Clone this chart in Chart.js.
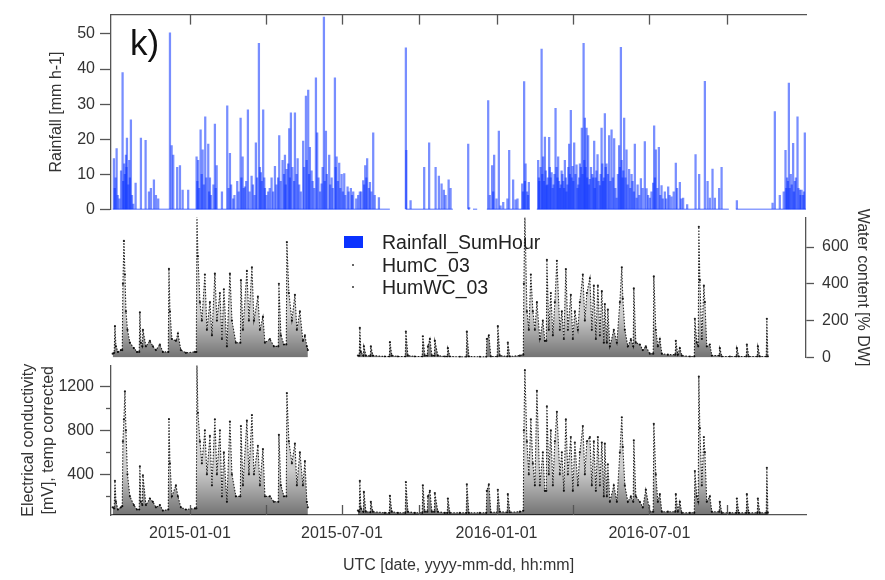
<!DOCTYPE html>
<html>
<head>
<meta charset="utf-8">
<script src="https://cdn.jsdelivr.net/npm/chart.js@4.4.1/dist/chart.umd.min.js"></script>
<style>
  body { margin: 0; background: #fff; }
  #wrap { position: relative; width: 885px; height: 580px; overflow: hidden; font-family: "Liberation Sans", Arial, sans-serif; }
  canvas { position: absolute; left: 0; }
  #panelTag { position: absolute; left: 130px; top: 23px; font-size: 35px; color: #111; }
  #legend { position: absolute; left: 344px; top: 231px; font-size: 19.5px; color: #222; line-height: 22.5px; }
  #legend div { position: relative; padding-left: 38px; white-space: nowrap; }
  #legend .box { position: absolute; left: 0; top: 5px; width: 19px; height: 12px; background: #0a32ff; }
  #legend .dot { position: absolute; left: 8px; top: 10px; width: 2px; height: 2px; background: #666; }
</style>
</head>
<body>
<div id="wrap">
  <canvas id="rainCanvas" width="885" height="224" style="top:0"></canvas>
  <canvas id="wcCanvas" width="885" height="175" style="top:200px"></canvas>
  <canvas id="ecCanvas" width="885" height="230" style="top:350px"></canvas>
  <div id="panelTag">k)</div>
  <div id="legend">
    <div><span class="box"></span>Rainfall_SumHour</div>
    <div><span class="dot"></span>HumC_03</div>
    <div><span class="dot"></span>HumWC_03</div>
  </div>
</div>
<script>
// x values are days since 2014-10-01 (UTC)
const START = Date.UTC(2014, 9, 1);
const X_MIN = -2, X_MAX = 825.5;

// quarterly tick dates, only Jan/Jul get a label
const tickDates = ['2015-01-01', '2015-04-01', '2015-07-01', '2015-10-01', '2016-01-01', '2016-04-01', '2016-07-01', '2016-10-01'];
const labelDates = ['2015-01-01', '2015-07-01', '2016-01-01', '2016-07-01'];

const rainTicks = [0, 10, 20, 30, 40, 50];
const wcTicks = [0, 200, 400, 600];
const ecTicks = [400, 800, 1200];
const ecMinorTicks = [200, 600, 1000];

// hourly rainfall sums [mm h-1]
const rainDay = [1.5, 4.7, 11.8, 13.8, 15.8, 17.0, 19.7, 21.7, 24.5, 27.3, 33.6, 39.2, 43.2, 45.5, 49.1, 51.5, 54.2,
  68.2, 70.2, 72.1, 76.8, 80.1, 83.3, 89.9, 99.9, 101.8, 104.7, 107.1, 110.2, 113.8, 115.8, 121.7, 123.8, 130.1,
  136.4, 139.6, 143.5, 148.3, 152.3, 154.7, 157.4, 161.0, 165.4, 170.5, 174.1, 176.5, 179.2, 181.3, 185.2, 189.2,
  193.2, 198.3, 202.3, 205.1, 207.1, 210.2, 212.2, 217.0, 220.2, 226.8, 230.1, 232.8, 234.8, 236.8, 242.0, 243.5,
  248.8, 251.5, 253.9, 257.8, 260.7, 264.6, 266.6, 269.7, 272.6, 275.7, 279.7, 283.6, 286.4, 292.3, 294.3, 298.3,
  300.7, 303.0, 306.3, 310.2, 317.0, 349.1, 349.6, 354.7, 370.9, 376.8, 384.5, 388.4, 391.6, 394.3, 396.4, 400.0,
  402.3, 423.3, 424.5, 447.1, 451.8, 454.2, 459.8, 461.8, 472.1, 476.8, 479.7, 487.6, 489.9, 491.6, 493.5, 495.5,
  506.6, 508.0, 510.7, 512.6, 514.6, 516.6, 518.0, 519.7, 522.6, 525.0, 527.3, 530.4, 532.5, 534.5, 536.5, 538.4,
  540.4, 543.5, 545.5, 547.6, 549.5, 552.3, 554.5, 556.3, 558.6, 560.7, 562.2, 564.2, 566.1, 568.2, 571.0, 573.3,
  575.0, 577.3, 580.1, 582.1, 584.0, 586.0, 588.0, 591.1, 594.0, 597.1, 600.0, 603.0, 605.1, 607.0, 609.0, 611.8,
  614.9, 617.8, 621.7, 623.8, 628.9, 633.6, 635.7, 639.6, 643.5, 644.7, 646.7, 650.3, 653.5, 657.4, 661.4, 665.4,
  670.5, 675.3, 679.2, 684.0, 694.0, 698.3, 705.1, 708.3, 711.0, 714.2, 717.0, 722.1, 725.0, 743.2, 785.7, 788.4,
  794.3, 801.1, 803.0, 805.1, 807.4, 810.2, 812.2, 815.4, 818.2, 820.2, 822.1, 824.1];
const rainMm = [14.5, 17.3, 39, 13, 15.5, 20.3, 14, 25.5, 1.5, 7.5, 20.3, 19.7, 5, 6, 8.4, 4, 3,
  50.3, 18.2, 15.5, 12, 12.5, 5.5, 5.5, 15, 14, 22.7, 17, 26.4, 18.6, 9, 24.3, 12.5, 5,
  29.5, 16, 3, 8, 26, 15, 6.4, 28.4, 9.5, 19, 47.3, 10.5, 28.4, 6, 5, 9,
  12.3, 21, 14, 15.5, 11.4, 23, 27.5, 27.5, 14.5, 19.5, 32.3, 34, 17.7, 11, 37.5, 21.8,
  7.3, 54.8, 22.3, 15.5, 9, 37.5, 15, 13.2, 10, 10.2, 6.4, 6, 5, 4, 5, 8.2,
  12.5, 14.5, 7.7, 21.8, 3.4, 46, 16.8, 2.5, 12, 19, 12, 9.5, 7.3, 5.5, 4, 8.4,
  6, 18.6, 0.5, 31, 12.5, 15.5, 22.3, 1, 16.8, 8.4, 2.7, 7.3, 36.4, 13, 5, 7.7,
  14, 8, 45.7, 15, 20.6, 6.8, 9, 20.5, 10.5, 7, 28.8, 15, 6, 11, 8, 14,
  5, 18.6, 28.2, 12.3, 19, 12.7, 7, 13, 23.2, 47.3, 26, 23.2, 21, 8.6, 10, 19.5,
  9, 15.6, 6.8, 23.2, 8, 27.3, 13, 21, 22.7, 20.2, 3.2, 18.2, 46.2, 9, 26, 17,
  11.4, 10, 18.6, 3.2, 8.8, 19.3, 5.9, 3.2, 7.5, 23.8, 17, 17.7, 6.8, 5, 6.4, 3.6,
  13.2, 7.7, 3.2, 1.4, 15.6, 10, 36.5, 8, 3.2, 11.5, 3.2, 6, 12, 2.5, 1.8, 27.9,
  4, 16.8, 9, 36, 10, 18.8, 8, 26.4, 5.5, 5.5, 4, 21.8];

// the many small hourly sums inside the wet spells
const lightDay = [2.5, 3.5, 6, 8, 10, 12.5, 14.5, 16.5, 18.5, 20.5, 23,
  100.8, 103, 106, 108.5, 111.5, 114.8, 117, 120, 122.7,
  138, 141, 145, 150, 153.3, 156, 159, 163, 167, 169, 172, 175.3, 177.5, 180.5, 183, 187, 191, 195, 197,
  200, 204, 206, 209, 211, 214, 216, 219, 222, 224,
  228, 231, 233.8, 238, 240, 245, 247, 250, 252.5, 255, 259, 262, 265.5, 268, 271, 274, 277, 281, 285, 290,
  296, 299.5, 302, 305, 308, 312,
  449, 453, 457, 465, 470, 482, 488.5, 490.8, 494.5,
  507.5, 509.5, 511.5, 513.5, 515.6, 517.5, 520.5, 521.5, 523.8, 526, 528.5, 529.5, 531.5, 533.5, 535.5, 537.5,
  539.5, 541.5, 542.5, 544.5, 546.5, 548.5, 551, 553.5, 555.5, 557.5, 559.5, 561.5, 563.2, 565,
  567, 569.5, 572, 574, 576, 578.5, 581, 583, 585, 587, 589.5, 592.5, 595.5, 598.5, 601.5, 604, 606, 608, 610.5,
  613, 616.3, 619, 620.5, 625, 627, 631, 637.5, 641.5, 645.7, 648.5, 652, 655, 659, 663, 668, 672, 677,
  799, 802, 804, 806, 808.5, 811, 813.5, 816.5, 819, 823];
const lightMm = [6, 9, 4, 3, 11, 8, 10, 12, 7, 9, 4,
  8, 6, 10, 7, 9, 5, 4, 7, 6,
  6, 7, 4, 5, 9, 6, 8, 5, 7, 4, 9, 12, 8, 9, 4, 6, 5, 7, 9,
  8, 10, 7, 13, 9, 12, 8, 10, 7, 5,
  12, 14, 10, 8, 6, 9, 5, 12, 8, 10, 7, 6, 12, 8, 6, 5, 4, 5, 4, 3,
  5, 7, 9, 6, 5, 4,
  4, 5, 3, 2, 3, 3, 5, 8, 4,
  9, 12, 10, 8, 11, 7, 12, 9, 6, 10, 12, 9, 8, 7, 10, 6,
  9, 7, 12, 10, 9, 8, 10, 6, 9, 12, 10, 14, 12, 9,
  7, 12, 9, 6, 11, 8, 10, 13, 9, 12, 10, 8, 9, 6, 10, 12, 14, 11, 9,
  7, 6, 8, 5, 7, 4, 6, 4, 5, 9, 6, 4, 3, 3, 4, 5, 6, 3,
  5, 6, 8, 6, 7, 5, 9, 6, 4, 5];

// periods with rain gauge data (zero line)
const rainSpans = [[0, 330], [349, 405], [423, 425], [429, 434], [445.5, 496.7], [505, 733.6], [742, 825.5]];

// soil sensor readings: HumWC_03 = water content [% DW], HumC_03 = conductivity [mV]
const humDay = [0, 1.8, 2.7, 3.9, 6.3, 9.8, 11.4, 12.2, 13.4, 14.6,
  15.8, 17.6, 20.5, 25.3, 28.9, 31.6, 32.4, 33.6, 35.3, 36.0,
  39.6, 44.3, 47.9, 51.5, 56.2, 59.8, 66.2, 67.0, 68.2, 70.5,
  75.3, 77.7, 81.2, 87.2, 97.9, 99.6, 100.3, 101.5, 103.9, 106.2,
  109.8, 112.2, 115.8, 118.2, 121.7, 124.1, 127.7, 130.1, 132.4, 136.0,
  139.6, 142.0, 146.7, 152.0, 152.7, 155.1, 159.8, 162.2, 165.8, 168.2,
  172.9, 175.3, 178.9, 181.3, 187.2, 192.0, 197.2, 197.9, 200.3, 203.9,
  206.7, 207.4, 209.8, 213.4, 217.0, 219.3, 222.9, 226.5, 228.9, 231.2,
  232.4, 262, 292.0, 293.6, 294.3, 295.5, 298.4, 299.1, 301.5, 306.7,
  307.4, 309.8, 324.1, 329.4, 330.1, 332.4, 339.6, 348.4, 349.1, 351.5,
  359.8, 368.6, 369.3, 371.7, 374.6, 375.3, 377.7, 380.1, 383.0, 383.6,
  387.2, 395.5, 398.4, 399.1, 401.5, 413.4, 421.0, 421.7, 424.1, 437.2,
  444.8, 445.5, 447.9, 450.3, 457.9, 458.6, 461.0, 469.8, 470.5, 472.9,
  484.8, 488.9, 489.6, 490.8, 493.2, 495.5, 497.9, 500.3, 502.7, 505.1,
  508.6, 512.2, 514.6, 516.3, 517.0, 519.3, 521.7, 524.1, 526.5, 528.9,
  532.4, 534.8, 537.2, 539.6, 542.0, 545.5, 547.9, 550.3, 553.9, 556.2,
  559.8, 562.2, 564.6, 568.2, 570.5, 572.9, 575.3, 577.7, 580.1, 582.4,
  584.8, 586.0, 588.4, 589.6, 592.0, 596.7, 600.3, 603.9, 606.2, 607.4,
  609.8, 613.4, 617.0, 619.8, 620.5, 622.9, 627.7, 631.2, 634.8, 639.6,
  643.6, 644.3, 646.7, 649.1, 651.5, 653.9, 661.0, 669.8, 670.5, 672.9,
  675.3, 677.7, 687.2, 692.5, 693.2, 695.5, 697.2, 697.9, 699.1, 701.5,
  703.9, 705.1, 707.4, 711.0, 713.4, 722.2, 722.9, 725.3, 734.8, 742.5,
  743.2, 745.5, 754.4, 755.1, 757.4, 767.5, 768.2, 770.5, 778.2, 778.9,
  780.1];
const humWC = [20, 25, 170, 60, 30, 40, 40, 400, 633, 450,
  250, 150, 80, 50, 30, 30, 245, 80, 60, 150,
  60, 90, 60, 40, 70, 30, 30, 481, 250, 100,
  90, 130, 40, 25, 30, 30, 780, 550, 300, 200,
  450, 150, 300, 120, 455, 200, 350, 100, 370, 60,
  455, 200, 80, 80, 420, 150, 470, 200, 490, 200,
  330, 150, 220, 80, 100, 60, 60, 400, 120, 70,
  70, 627, 350, 200, 340, 150, 250, 90, 120, 60,
  40, null, 10, 10, 160, 30, 10, 60, 10, 8,
  60, 10, 5, 5, 83, 10, 5, 5, 140, 10,
  5, 5, 115, 10, 10, 60, 100, 10, 10, 90,
  10, 5, 5, 50, 5, 3, 3, 140, 5, 3,
  3, 100, 120, 5, 5, 170, 10, 5, 80, 5,
  10, 15, 400, 775, 250, 150, 450, 250, 150, 300,
  100, 200, 90, 90, 530, 150, 350, 120, 300, 525,
  150, 250, 100, 480, 150, 340, 100, 250, 150, 300,
  450, 200, 350, 430, 150, 390, 100, 390, 120, 360,
  80, 290, 80, 260, 60, 150, 80, 300, 490, 320,
  150, 60, 100, 60, 375, 80, 70, 40, 60, 20,
  20, 440, 150, 60, 100, 20, 15, 15, 90, 15,
  50, 10, 5, 5, 210, 80, 60, 710, 420, 100,
  390, 300, 60, 70, 10, 10, 50, 5, 5, 5,
  50, 5, 5, 70, 5, 5, 60, 5, 5, 210,
  5];
const humC = [100, 90, 340, 150, 80, 100, 110, 700, 900, 1155,
  800, 400, 200, 120, 80, 80, 474, 150, 120, 390,
  120, 180, 150, 100, 120, 70, 80, 903, 500, 200,
  300, 200, 100, 80, 90, 90, 1420, 960, 700, 500,
  800, 400, 750, 300, 900, 400, 800, 200, 600, 150,
  880, 400, 200, 200, 840, 300, 890, 400, 940, 400,
  660, 300, 630, 200, 200, 150, 150, 760, 300, 200,
  200, 1140, 700, 500, 680, 300, 600, 300, 520, 150,
  100, null, 70, 60, 340, 90, 60, 240, 60, 55,
  150, 60, 50, 50, 205, 60, 50, 50, 330, 60,
  50, 50, 300, 60, 60, 200, 250, 60, 60, 230,
  60, 50, 50, 180, 50, 50, 50, 310, 50, 50,
  50, 250, 310, 55, 55, 260, 60, 55, 220, 55,
  60, 70, 800, 1348, 700, 400, 900, 500, 300, 1160,
  300, 600, 250, 250, 1020, 400, 800, 300, 700, 970,
  400, 600, 250, 900, 400, 740, 250, 690, 300, 600,
  840, 400, 700, 740, 300, 700, 250, 740, 300, 690,
  200, 680, 200, 490, 150, 300, 150, 600, 920, 650,
  300, 150, 200, 150, 710, 200, 150, 100, 260, 60,
  60, 860, 400, 150, 220, 60, 60, 60, 220, 60,
  150, 50, 50, 50, 430, 200, 150, 1290, 820, 300,
  740, 600, 150, 200, 60, 60, 150, 50, 50, 50,
  180, 50, 50, 220, 50, 50, 180, 50, 50, 460,
  50];

const dayOf = s => (Date.parse(s + 'T00:00:00Z') - START) / 86400000;
const tickDays = tickDates.map(dayOf);
const labelDays = labelDates.map(dayOf);

Chart.defaults.font.family = '"Liberation Sans", Arial, sans-serif';
Chart.defaults.font.size = 16;
Chart.defaults.color = '#333';
Chart.defaults.animation = false;

const axisGray = '#555';

// short tick marks pointing into the plot area, plus optional minor y ticks
const innerTicks = {
  id: 'innerTicks',
  afterDraw(chart, args, opts) {
    const ctx = chart.ctx, area = chart.chartArea;
    ctx.save();
    ctx.strokeStyle = axisGray;
    ctx.lineWidth = 1.3;
    if (opts.edge) {
      const xs = chart.scales.x;
      tickDays.forEach(d => {
        const px = Math.round(xs.getPixelForValue(d)) + 0.5;
        const y0 = opts.edge === 'top' ? area.top : area.bottom;
        const y1 = opts.edge === 'top' ? y0 + 10 : y0 - 10;
        ctx.beginPath(); ctx.moveTo(px, y0); ctx.lineTo(px, y1); ctx.stroke();
      });
    }
    if (opts.minor) {
      const ys = chart.scales.y;
      opts.minor.forEach(v => {
        const py = Math.round(ys.getPixelForValue(v)) + 0.5;
        ctx.beginPath(); ctx.moveTo(area.left - 5, py); ctx.lineTo(area.left, py); ctx.stroke();
      });
    }
    ctx.restore();
  }
};

const xHidden = { type: 'linear', min: X_MIN, max: X_MAX, display: false, offset: false };

// hourly readings are too dense to separate: the shading under the dotted trace
// fades upwards like the point cloud does
const cloudShade = ({ chart }) => {
  const area = chart.chartArea;
  if (!area) return 'rgba(0, 0, 0, 0.2)';
  const g = chart.ctx.createLinearGradient(0, area.bottom, 0, area.top);
  g.addColorStop(0, 'rgba(0, 0, 0, 0.55)');
  g.addColorStop(0.3, 'rgba(0, 0, 0, 0.2)');
  g.addColorStop(1, 'rgba(0, 0, 0, 0.06)');
  return g;
};

const sensorSet = (label, values) => ({
  label,
  data: humDay.map((d, i) => ({ x: d, y: values[i] })),
  borderColor: 'rgba(0, 0, 0, 0.85)',
  borderWidth: 1.1,
  borderDash: [1.5, 1.5],
  backgroundColor: cloudShade,
  fill: 'start',
  pointRadius: 1.1,
  pointBorderWidth: 0,
  pointBackgroundColor: 'rgba(0, 0, 0, 0.85)',
  spanGaps: false
});

// rainfall panel
new Chart(document.getElementById('rainCanvas'), {
  type: 'bar',
  data: {
    datasets: [{
      label: 'Rainfall_SumHour',
      data: rainDay.map((d, i) => ({ x: d, y: rainMm[i] }))
        .concat(lightDay.map((d, i) => ({ x: d, y: lightMm[i] }))),
      backgroundColor: 'rgba(10, 50, 255, 0.55)',
      barThickness: 1.6,
      grouped: false
    }, {
      type: 'line',
      label: 'coverage',
      data: rainSpans.flatMap(([a, b]) => [{ x: a, y: 0 }, { x: b, y: 0 }, { x: b + 0.01, y: null }]),
      borderColor: '#1a40ff',
      borderWidth: 1.5,
      pointRadius: 0,
      spanGaps: false
    }]
  },
  options: {
    responsive: false,
    layout: { padding: { top: 8, right: 79, bottom: 12, left: 0 } },
    plugins: { legend: { display: false }, tooltip: { enabled: false }, innerTicks: { edge: 'top' } },
    scales: {
      x: {
        type: 'linear', position: 'top', min: X_MIN, max: X_MAX, offset: false,
        ticks: { display: false },
        grid: { drawOnChartArea: false, drawTicks: false },
        border: { color: axisGray, width: 1.3 }
      },
      y: {
        min: 0, max: 55.5,
        afterBuildTicks: s => { s.ticks = rainTicks.map(v => ({ value: v })); },
        afterFit: s => { s.width = 111; },
        ticks: { padding: 5, color: '#333', callback: v => String(v) },
        grid: { drawOnChartArea: false, tickLength: 11, tickColor: axisGray, tickWidth: 1.3 },
        border: { color: axisGray, width: 1.3 },
        title: { display: true, text: 'Rainfall [mm h-1]', color: '#333', padding: { top: 47 } }
      }
    }
  },
  plugins: [innerTicks]
});

// water content panel (right axis)
new Chart(document.getElementById('wcCanvas'), {
  type: 'line',
  data: { datasets: [sensorSet('HumWC_03', humWC)] },
  options: {
    responsive: false,
    layout: { padding: { top: 12, right: 0, bottom: 13, left: 111 } },
    plugins: { legend: { display: false }, tooltip: { enabled: false } },
    scales: {
      x: xHidden,
      y: {
        position: 'right', min: 0, max: 760,
        afterBuildTicks: s => { s.ticks = wcTicks.map(v => ({ value: v })); },
        afterFit: s => { s.width = 79; },
        ticks: { padding: 8, color: '#333', callback: v => String(v) },
        grid: { drawOnChartArea: false, tickLength: 8, tickColor: axisGray, tickWidth: 1.3 },
        border: { color: axisGray, width: 1.3 },
        title: { display: true, text: 'Water content [% DW]', color: '#333', padding: { top: 13 } }
      }
    }
  }
});

// electrical conductivity panel with the date axis
new Chart(document.getElementById('ecCanvas'), {
  type: 'line',
  data: { datasets: [sensorSet('HumC_03', humC)] },
  options: {
    responsive: false,
    layout: { padding: { top: 12, right: 79, bottom: 0, left: 0 } },
    plugins: { legend: { display: false }, tooltip: { enabled: false }, innerTicks: { edge: 'bottom', minor: ecMinorTicks } },
    scales: {
      x: {
        type: 'linear', min: X_MIN, max: X_MAX, offset: false,
        afterBuildTicks: s => { s.ticks = tickDays.map(v => ({ value: v })); },
        afterFit: s => { s.height = 65; },
        ticks: {
          autoSkip: false, maxRotation: 0, padding: 9, color: '#333',
          callback: v => labelDays.includes(v) ? labelDates[labelDays.indexOf(v)] : ''
        },
        grid: { drawOnChartArea: false, drawTicks: false },
        border: { color: axisGray, width: 1.3 },
        title: { display: true, text: 'UTC [date, yyyy-mm-dd, hh:mm]', color: '#333', padding: { bottom: 5 } }
      },
      y: {
        min: 30, max: 1390,
        afterBuildTicks: s => { s.ticks = ecTicks.map(v => ({ value: v })); },
        afterFit: s => { s.width = 111; },
        ticks: { padding: 6, color: '#333', callback: v => String(v) },
        grid: { drawOnChartArea: false, tickLength: 11, tickColor: axisGray, tickWidth: 1.3 },
        border: { color: axisGray, width: 1.3 },
        title: {
          display: true, text: ['Electrical conductivity', '[mV], temp corrected'], color: '#333',
          font: { size: 16, lineHeight: 1.25 }, padding: { top: 19 }
        }
      }
    }
  },
  plugins: [innerTicks]
});
</script>
</body>
</html>
